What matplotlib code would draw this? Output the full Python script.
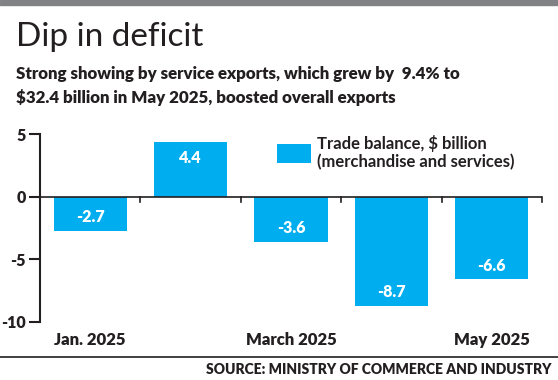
import matplotlib
matplotlib.use("Agg")
import matplotlib.pyplot as plt

months = ["Jan. 2025", "Feb. 2025", "March 2025", "April 2025", "May 2025"]
balance = [-2.7, 4.4, -3.6, -8.7, -6.6]
shown_labels = ["Jan. 2025", "", "March 2025", "", "May 2025"]

blue = "#00aeef"
ink = "#231f20"
plt.rcParams["font.family"] = ["Lato", "DejaVu Sans"]

W, H = 558, 380
fig = plt.figure(figsize=(W / 100, H / 100), dpi=100)

def px(x, y):
    return x / W, 1 - y / H

# grey band on top
fig.patches.append(plt.Rectangle((0, 1 - 5 / H), 1, 5 / H, transform=fig.transFigure,
                                 color="#808285", zorder=0))

fig.text(*px(16, 37), "Dip in deficit", fontsize=24, fontweight="normal", color=ink, va="center")
fig.text(*px(16, 74), "Strong showing by service exports, which grew by  9.4% to",
         fontsize=12.2, fontweight="heavy", color=ink, va="center")
fig.text(*px(16, 98), "$32.4 billion in May 2025, boosted overall exports",
         fontsize=12.2, fontweight="heavy", color=ink, va="center")

ax = fig.add_axes([40 / W, (H - 322) / H, (542 - 40) / W, (322 - 134) / H])
x = list(range(len(balance)))
ax.bar(x, balance, width=0.73, color=blue, zorder=2, label="Trade balance, $ billion\n(merchandise and services)")
for i, v in enumerate(balance):
    ax.text(i, v + (1.1 if v < 0 else -1.3), f"{v:g}", ha="center", va="center", color="white",
            fontsize=11.5, fontweight="heavy", zorder=6)

ax.set_xlim(-0.5, 4.5)
ax.set_ylim(-10, 5)
ax.set_yticks([5, 0, -5, -10])
ax.set_yticklabels(["5", "0", "-5", "-10"], fontweight="heavy")
for s in ["top", "right", "bottom"]:
    ax.spines[s].set_visible(False)
ax.spines["left"].set_color(ink)
ax.spines["left"].set_linewidth(1.5)
ax.axhline(0, color=ink, lw=1.2, zorder=3)
ax.tick_params(axis="y", length=8, width=1.5, color=ink, labelsize=11.5, pad=2, labelcolor=ink)
ax.set_xticks(x)
ax.set_xticklabels(shown_labels, fontsize=12, fontweight="heavy", color=ink)
ax.tick_params(axis="x", length=0, pad=7)
# small tick marks on the zero line between months
for b in [0.5, 1.5, 2.5, 3.5, 4.5]:
    ax.plot([b, b], [0, -0.4], color=ink, lw=1.2, zorder=3, clip_on=False)

leg = ax.legend(loc="upper left", bbox_to_anchor=(0.453, 1.05), frameon=False, fontsize=12,
                handlelength=2.0, handleheight=1.4, handletextpad=0.4, borderaxespad=0.2)
for t in leg.get_texts():
    t.set_color(ink)
    t.set_fontweight("bold")

fig.add_artist(plt.Line2D([0, 1], [1 - 357 / H] * 2, transform=fig.transFigure, color=ink, lw=1.2))
fig.text(*px(552, 369), "SOURCE: MINISTRY OF COMMERCE AND INDUSTRY", ha="right", va="center",
         fontsize=10, fontweight="heavy", color=ink)

fig.savefig("out.png", dpi=100)
